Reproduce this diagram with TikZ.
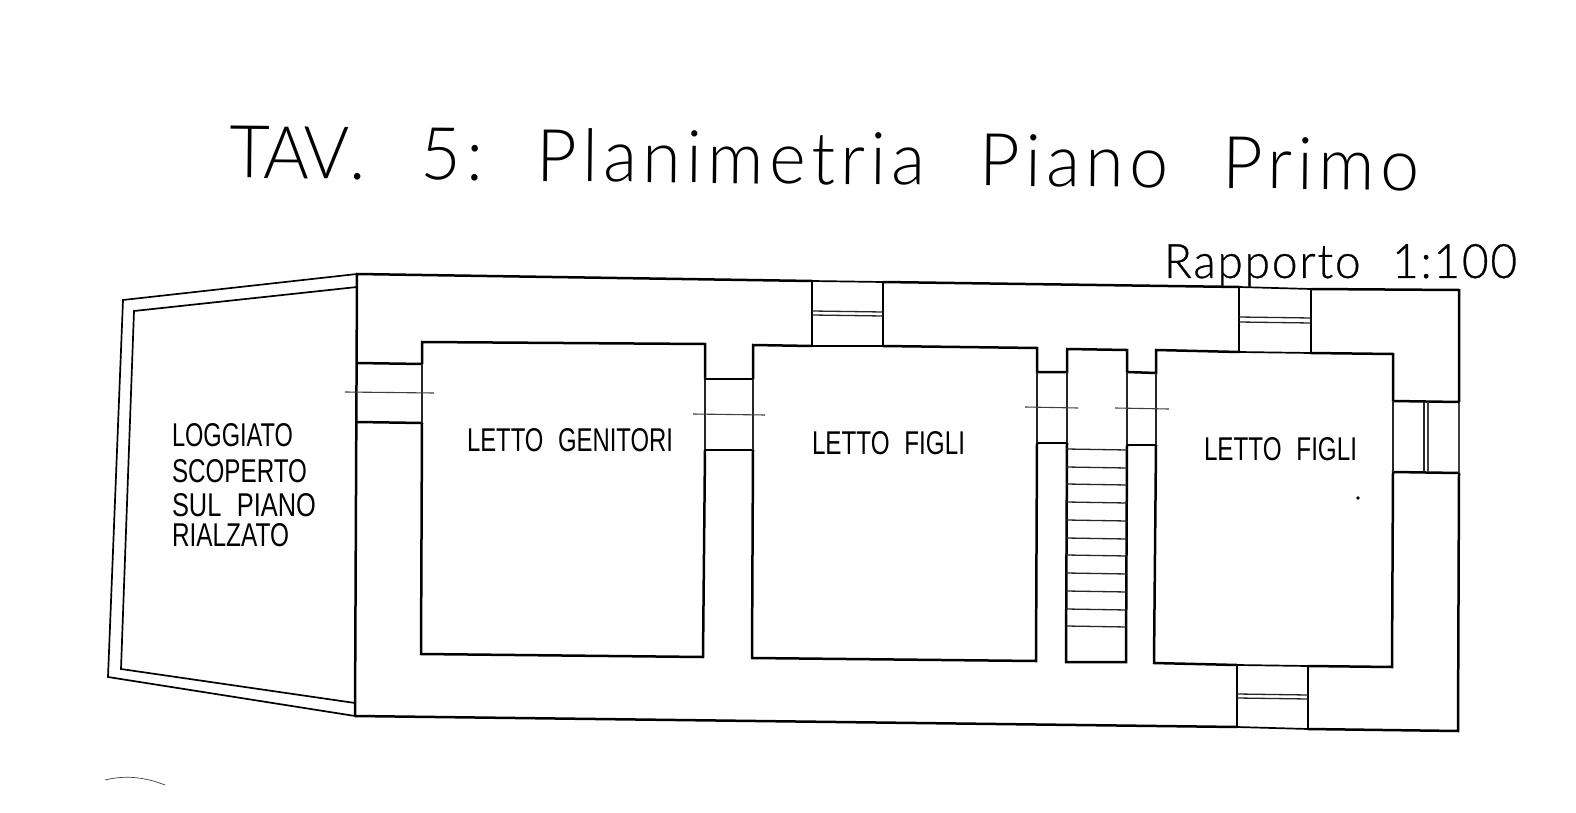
\documentclass[tikz,border=0pt]{standalone}
\usepackage{graphicx}
\usepackage{fontspec}
\setmainfont{Liberation Sans}
\newfontfamily\titlefont{Lato Light}[LetterSpace=8,WordSpace=2.2]
\newfontfamily\scalefont{Lato Light}[LetterSpace=4,WordSpace=2.2,FakeBold=0.6]
\newfontfamily\labelfont{Liberation Sans}[WordSpace=2.2]
% text forced to a width and a cap height given in reference pixels
\newcommand{\fitpx}[3]{\resizebox{\dimexpr #1pt/2\relax}{\dimexpr #2pt/2\relax}{#3}}
\tikzset{
  x=0.5pt,y=-0.5pt,
  wall/.style={line width=1.25pt,black,line join=miter},
  jamb/.style={line width=0.65pt,black!85},
  fine/.style={line width=0.55pt,black!75},
  edgeline/.style={line width=0.85pt,black,line join=miter},
  txt/.style={inner sep=0pt,outer sep=0pt,anchor=base west,black},
}
\begin{document}
\begin{tikzpicture}
\useasboundingbox (0,0) rectangle (1576,813);
\fill[white] (0,0) rectangle (1576,813);

% Title and scale
\node[txt,rotate=-0.6] (title) at (229,178) {\fitpx{1190}{53}{\titlefont T\kern-0.08emA\kern-0.08emV. 5:\kern-0.12em{} Planimetria Piano Primo}};
\node[txt] (scale) at (1164,278) {\fitpx{353}{34}{\scalefont Rapporto 1:100}};

% Loggia
\draw[edgeline] (357,274) -- (123,300) -- (108,677) -- (355,716);
\draw[edgeline] (357,287) -- (134,311) -- (121,669) -- (355,703);

% Outer walls
\draw[wall] (355,716) -- (357,274) -- (812,281);
\draw[edgeline] (812,281) -- (883,282);
\draw[wall] (883,282) -- (1239,287);
\draw[edgeline] (1239,287) -- (1311,289);
\draw[wall] (1311,289) -- (1459,290) -- (1459,402);
\draw[fine] (1459,402) -- (1459,473);
\draw[wall] (1459,473) -- (1458,731) -- (1308,729);
\draw[edgeline] (1308,729) -- (1237,727);
\draw[wall] (1237,727) -- (355,716);

% Room 1
\draw[wall] (422,364) -- (422,342) -- (705,344) -- (705,379);
\draw[wall] (705,450) -- (703,657) -- (421,654) -- (422,423);
\draw[wall] (357,363) -- (422,364);
\draw[wall] (357,422) -- (422,423);
\draw[jamb] (422,364) -- (422,423);
\draw[jamb] (705,379) -- (705,450);
\draw[wall] (705,379) -- (753,379);
\draw[wall] (705,450) -- (753,450);

% Room 2
\draw[wall] (753,379) -- (753,345) -- (812,346);
\draw[edgeline] (812,346) -- (883,346);
\draw[wall] (883,346) -- (1037,348) -- (1037,372) -- (1067,372) -- (1067,349) -- (1127,350) -- (1127,372) -- (1156,373) -- (1156,350) -- (1239,352);
\draw[wall] (1037,443) -- (1036,661) -- (752,658) -- (753,450);
\draw[jamb] (753,379) -- (753,450);
\draw[jamb] (1037,372) -- (1037,443);
\draw[jamb] (1067,372) -- (1067,443);
\draw[wall] (1037,443) -- (1067,443);

% Top windows
\draw[wall] (812,281) -- (812,346);
\draw[wall] (883,282) -- (883,346);
\draw[jamb] (812,311) -- (883,312);
\draw[jamb] (812,315) -- (883,316);
\draw[wall] (1239,287) -- (1239,352);
\draw[wall] (1311,289) -- (1311,353);
\draw[jamb] (1239,317) -- (1311,318);
\draw[jamb] (1239,322) -- (1311,323);

% Staircase
\draw[wall] (1067,443) -- (1066,662) -- (1126,662) -- (1127,445);
\draw[jamb] (1127,372) -- (1127,445);
\draw[jamb] (1156,373) -- (1156,445);
\draw[wall] (1127,445) -- (1156,445);
\foreach \yy in {449,467,484,502,520,538,555,573,591,609,626}
  \draw[jamb] (1066,\yy) -- (1127,\yy+1);

% Room 3
\draw[edgeline] (1239,352) -- (1311,353);
\draw[wall] (1311,353) -- (1393,354) -- (1393,401) -- (1459,402);
\draw[wall] (1156,445) -- (1154,663) -- (1237,665);
\draw[edgeline] (1237,665) -- (1308,666);
\draw[wall] (1308,666) -- (1392,667) -- (1393,472) -- (1459,473);
\draw[jamb] (1393,401) -- (1393,472);

% Right window
\draw[jamb] (1424,402) -- (1424,472);
\draw[fine] (1428,402) -- (1428,472);

% Bottom window
\draw[wall] (1237,665) -- (1237,727);
\draw[wall] (1308,666) -- (1308,729);
\draw[jamb] (1237,694) -- (1308,695);
\draw[jamb] (1237,698) -- (1308,699);

% Door swing lines
\draw[fine] (345,392) -- (434,393);
\draw[fine] (693,414) -- (765,415);
\draw[fine] (1025,407) -- (1078,408);
\draw[fine] (1115,408) -- (1169,409);

% Labels
\node[txt] (l1) at (172,446) {\fitpx{121}{23}{\labelfont LOGGIATO}};
\node[txt] (l2) at (172,482) {\fitpx{135}{23}{\labelfont SCOPERTO}};
\node[txt] (l3) at (172,516) {\fitpx{144}{23}{\labelfont SUL PIANO}};
\node[txt] (l4) at (172,546) {\fitpx{117}{23}{\labelfont RIALZATO}};
\node[txt] (r1) at (467,451) {\fitpx{206}{23}{\labelfont LETTO GENITORI}};
\node[txt] (r2) at (812,454) {\fitpx{153}{23}{\labelfont LETTO FIGLI}};
\node[txt] (r3) at (1204,460) {\fitpx{153}{23}{\labelfont LETTO FIGLI}};

% Marks of the sheet
\fill (1358,498) circle[radius=1.8];
\draw[fine,line width=0.35pt] (105,780) .. controls (125,775) and (145,777) .. (165,785);
\end{tikzpicture}
\end{document}
